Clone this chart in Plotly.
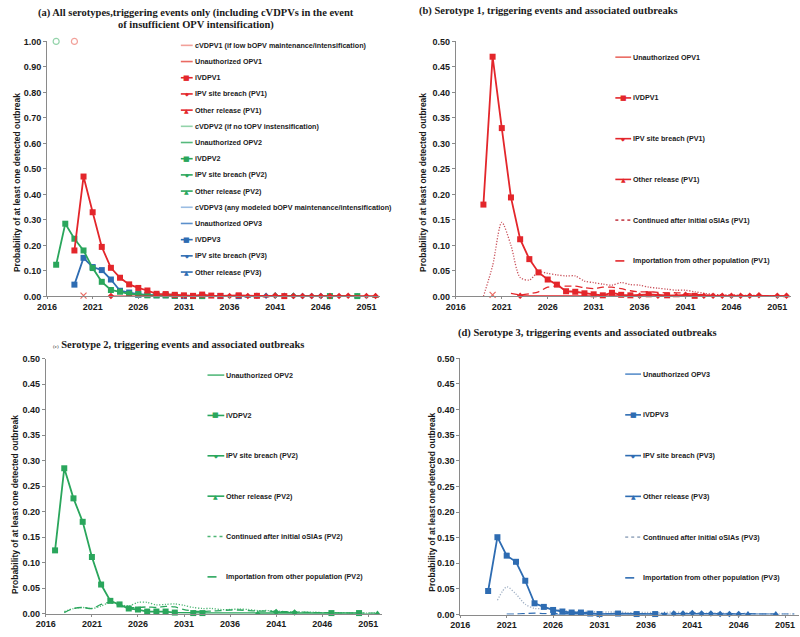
import plotly.graph_objects as go

W, H = 800, 637
N = None

years = list(range(2016, 2053))
xtick_years = [2016, 2021, 2026, 2031, 2036, 2041, 2046, 2051]

# ---- serotype 1 ----
cvdpv1 = [N, N, N, 1.0] + [N] * 33
unauth1 = [N, N, N, N, 0.003] + [N] * 32
ivdpv1 = [N, N, N, .180, .470, .330, .194, .112, .073, .047, .033, .023, .010, .009, .006, .004,
          .002, .007, .003, .002, N, .004, N, .002, N, N, .001, N, N, N, N, N, N, N, N, N, N]
ipv1 = [N, N, N, N, N, N, N, .001, N, N, N, N, N, N, N, N, N, N, N, N, .001, N, .001, N, N, .003,
        N, .001, .001, .001, .001, .001, .001, .002, N, .001, .001]
other1 = [N] * 24 + [.001] + [N] * 11 + [.001]
cont1 = [N, N, N, 0.0, .060, .145, .100, .037, .032, .048, .045, .042, .040, .040, .030, .027, .024,
         .022, .027, .023, .022, .018, .016, .014, .012, .012, .009, .006, .004, .003, .003, .002,
         .002, .002, .001, .001, .001]
imp1 = [N, N, N, N, N, N, .006, .003, .005, .009, .018, .020, .020, .020, .017, .015, .018, .018,
        .015, .011, .009, .009, .008, .007, .007, .006, .004, .003, .002, .002, .002, .002, .001,
        .001, .001, .001, .001]

# ---- serotype 2 ----
cvdpv2 = [N, 1.0] + [N] * 35
unauth2 = [N] * 37
ivdpv2 = [N, .124, .285, .226, .180, .111, .057, .025, .018, .010, .008, .004, .004, .004, .002, N,
          .001, .001, N, N, N, N, N, N, N, N, N, N, N, N, N, .001, N, N, .001, N, N]
ipv2 = [N] * 25 + [.003, N, .002] + [N] * 9
other2 = [N] * 23 + [0.0] + [N] * 12 + [0.0]
cont2 = [N, N, .004, .010, .012, .010, .015, .022, .018, .015, .022, .022, .017, .018, .019, .016,
         .012, .010, .010, .008, .008, .009, .008, .006, .006, .005, .004, .004, .003, .003, .002,
         .002, .002, .001, .001, .001, .001]
imp2 = [N, N, .002, .010, .012, .010, .018, .022, .015, .012, .012, .013, .012, .014, .013, .008,
        .005, .004, .005, .006, .007, .007, .006, .005, .005, .004, .004, .003, .003, .002, .002,
        .002, .001, .001, .001, .001, .001]

# ---- serotype 3 ----
cvdpv3 = [N] * 37
unauth3 = [N] * 37
ivdpv3 = [N, N, N, .046, .151, .115, .103, .066, .022, .015, .009, .006, .004, .004, .002, .001,
          N, .002, N, .001, N, .001] + [N] * 15
ipv3 = [N] * 23 + [.002, .002, .003, .002, .002, .001, .001, .001] + [N] * 6
other3 = [N] * 10 + [0.0] + [N] * 11 + [0.0] + [N] * 8 + [.001, N, N, .001, N, N]
cont3 = [N, N, N, N, .028, .054, .040, .020, .012, .012, .010, .008, .006, .006, .006, .005, .005,
         .005, .004, .004, .004, .004, .004, .005, .004, .004, .003, .003, .003, .002, .002, .002,
         .001, .001, .001, .001, .001]
imp3 = [N, N, N, N, N, .001, .001, .002, .003, .002, .002, .002, .002, .002, .002, .002, .002, .002,
        .002, .002, .002, .002, .002, .002, .002, .002, .002, .002, .002, .002, .002, .002, .001,
        .001, .001, .001, .001]

RED, RED_L, RED_M, RED_D = "#E3262B", "#F2A19A", "#EA6A62", "#C9505A"
GRN, GRN_L, GRN_M, GRN_D = "#2AA65C", "#93D3AA", "#55B97C", "#4DB574"
BLU, BLU_L, BLU_M, BLU_D = "#2E6CB2", "#9BBDE3", "#5B8FCB", "#A3B2C6"

SANS = "Liberation Sans, Arial, sans-serif"
SERIF = "Liberation Serif, Times New Roman, serif"

panels = {
    "a": dict(ax="", xdom=(37.5, 374.8), ytop=37, ybot=296, ymax=1.0, dtick=0.1),
    "b": dict(ax="2", xdom=(451.5, 791), ytop=37, ybot=296, ymax=0.5, dtick=0.05),
    "c": dict(ax="3", xdom=(36.3, 376.8), ytop=359.3, ybot=618.3, ymax=0.5, dtick=0.05),
    "d": dict(ax="4", xdom=(456, 799), ytop=359, ybot=619.3, ymax=0.5, dtick=0.05),
}

fig = go.Figure()


def add(panel, y, color, symbol=None, size=6, dash="solid", width=1.8, lines=True, spline=False):
    ax = panels[panel]["ax"]
    mode = ("lines" if lines else "") + ("+markers" if (symbol and lines) else ("markers" if symbol else ""))
    line = dict(color=color, width=width, dash=dash)
    if spline:
        line["shape"] = "spline"
        line["smoothing"] = 0.8
    kw = dict(x=years, y=y, mode=mode, line=line, connectgaps=True, showlegend=False,
              cliponaxis=False, hoverinfo="skip", xaxis="x" + ax, yaxis="y" + ax)
    if symbol:
        kw["marker"] = dict(symbol=symbol, size=size, color=color,
                            line=dict(color=color, width=1.2 if "open" in symbol or "x" in symbol else 0))
    fig.add_trace(go.Scatter(**kw))


DOT = "1.2px,1.6px"
DASH = "7px,4px"

# panel (a)
for cv, un, iv, ip, ot, c, cl, cm in [
    (cvdpv3, unauth3, ivdpv3, ipv3, other3, BLU, BLU_L, BLU_M),
    (cvdpv2, unauth2, ivdpv2, ipv2, other2, GRN, GRN_L, GRN_M),
    (cvdpv1, unauth1, ivdpv1, ipv1, other1, RED, RED_L, RED_M),
]:
    add("a", cv, cl, "circle-open", 6, lines=False)
    add("a", un, cm, "x-thin", 6, lines=False)
    add("a", ip, c, "diamond", 5, width=1.2)
    add("a", ot, c, "triangle-up", 6, width=1.2)
    add("a", iv, c, "square", 6, width=1.8)

# panels (b)-(d)
for p, un, iv, ip, ot, co, im, c, cm, cd in [
    ("b", unauth1, ivdpv1, ipv1, other1, cont1, imp1, RED, RED_M, RED_D),
    ("c", unauth2, ivdpv2, ipv2, other2, cont2, imp2, GRN, GRN_M, GRN_D),
    ("d", unauth3, ivdpv3, ipv3, other3, cont3, imp3, BLU, BLU_M, BLU_D),
]:
    add(p, co, cd, dash=DOT, width=1.3, spline=True)
    add(p, im, c, dash=DASH, width=1.3, spline=True)
    add(p, un, cm, "x-thin", 6, lines=False)
    add(p, ip, c, "diamond", 5, width=1.2)
    add(p, ot, c, "triangle-up", 6, width=1.2)
    add(p, iv, c, "square", 6, width=1.8)

layout = dict(width=W, height=H, margin=dict(l=0, r=0, t=0, b=0), paper_bgcolor="white",
              plot_bgcolor="rgba(0,0,0,0)", showlegend=False)
for p, d in panels.items():
    ax = d["ax"]
    layout["xaxis" + ax] = dict(domain=[d["xdom"][0] / W, d["xdom"][1] / W], range=[2016, 2052.5],
                                anchor="y" + ax, tickvals=xtick_years, showline=True,
                                linecolor="#8a8a8a", linewidth=1, ticks="outside", ticklen=2,
                                tickcolor="#8a8a8a", showgrid=False, zeroline=False,
                                tickfont=dict(family=SANS, size=9, color="#1a1a1a", weight="bold"))
    layout["yaxis" + ax] = dict(domain=[1 - d["ybot"] / H, 1 - d["ytop"] / H], range=[0, d["ymax"]],
                                anchor="x" + ax, dtick=d["dtick"], tick0=0, tickformat=".2f",
                                showline=True, linecolor="#8a8a8a", linewidth=1, ticks="outside",
                                ticklen=3, tickcolor="#8a8a8a", showgrid=False, zeroline=False,
                                tickfont=dict(family=SANS, size=9, color="#1a1a1a", weight="bold"))
fig.update_layout(**layout)

ann = []
shapes = []


def txt(x, y, s, size, family, xanchor="left", angle=0, color="#1a1a1a"):
    ann.append(dict(x=x / W, y=1 - y / H, xref="paper", yref="paper", text=s, showarrow=False,
                    xanchor=xanchor, yanchor="middle", textangle=angle, borderpad=0,
                    font=dict(family=family, size=size, color=color)))


# titles
txt(188, 8, "<b>(a) All serotypes,triggering events only (including cVDPVs in the event</b>", 10.5, SERIF, "center")
txt(188, 20, "<b>of insufficient OPV intensification)</b>", 10.5, SERIF, "center")
txt(413, 6, "<b>(b) Serotype 1, triggering events and associated outbreaks</b>", 10.5, SERIF)
txt(43, 345, "<span style='font-size:5px'>(c)</span><b> Serotype 2, triggering events and associated outbreaks</b>", 10.5, SERIF)
txt(453, 333, "<b>(d) Serotype 3, triggering events and associated outbreaks</b>", 10.5, SERIF)

YT = "<b>Probability of at least one detected outbreak</b>"
txt(7, 180, YT, 8.5, SANS, "center", -90)
txt(418, 180, YT, 8.5, SANS, "center", -90)
txt(5, 507, YT, 8.5, SANS, "center", -90)
txt(427, 505, YT, 8.5, SANS, "center", -90)


def legend(entries, x0, x1, y0, step):
    for i, (label, color, glyph, dash, gsize) in enumerate(entries):
        y = y0 + i * step
        shapes.append(dict(type="line", xref="paper", yref="paper", x0=x0 / W, x1=x1 / W,
                           y0=1 - y / H, y1=1 - y / H,
                           line=dict(color=color, width=1.6, dash=dash)))
        if glyph:
            txt((x0 + x1) / 2, y, glyph, gsize, "DejaVu Sans", "center", color=color)
        txt(x1 + 1, y, "<b>" + label + "</b>", 7.2, SANS)


ent_a = []
for n, c, cl, cm, extra1, extra2 in [
    ("1", RED, RED_L, RED_M, "cVDPV1 (if low bOPV maintenance/intensification)", "Unauthorized OPV1"),
    ("2", GRN, GRN_L, GRN_M, "cVDPV2 (if no tOPV instensification)", "Unauthorized OPV2"),
    ("3", BLU, BLU_L, BLU_M, "cVDPV3 (any modeled bOPV maintenance/intensification)", "Unauthorized OPV3"),
]:
    ent_a += [
        (extra1, cl, None, "solid", 6),
        (extra2, cm, None, "solid", 6),
        ("iVDPV" + n, c, "■", "solid", 7),
        ("IPV site breach (PV%s)" % n, c, "◆", "solid", 5),
        ("Other release (PV%s)" % n, c, "▲", "solid", 6),
    ]
legend(ent_a, 173, 185, 41, 16.45)


def ent_bcd(n, c, cm, cd):
    return [
        ("Unauthorized OPV" + n, cm, None, "solid", 6),
        ("iVDPV" + n, c, "■", "solid", 7),
        ("IPV site breach (PV%s)" % n, c, "◆", "solid", 5),
        ("Other release (PV%s)" % n, c, "▲", "solid", 6),
        ("Continued after initial oSIAs (PV%s)" % n, cd, None, "dot", 6),
        ("Importation from other population (PV%s)" % n, c, None, "dash", 6),
    ]


legend(ent_bcd("1", RED, RED_M, RED_D), 613, 629, 53, 41.4)
legend(ent_bcd("2", GRN, GRN_M, GRN_D), 200, 217, 376, 41.0)
legend(ent_bcd("3", BLU, BLU_M, BLU_D), 623, 639, 375, 41.4)

fig.update_layout(annotations=ann, shapes=shapes)

post = (
    "document.documentElement.style.margin='0';document.documentElement.style.padding='0';"
    "document.body.style.margin='0';document.body.style.padding='0';"
    "document.body.style.overflow='hidden';"
    "var gd=document.getElementById('{plot_id}');"
    "gd.style.position='fixed';gd.style.left='0px';gd.style.top='0px';"
)
fig.write_html("out.html", config={"displayModeBar": False}, post_script=post)
